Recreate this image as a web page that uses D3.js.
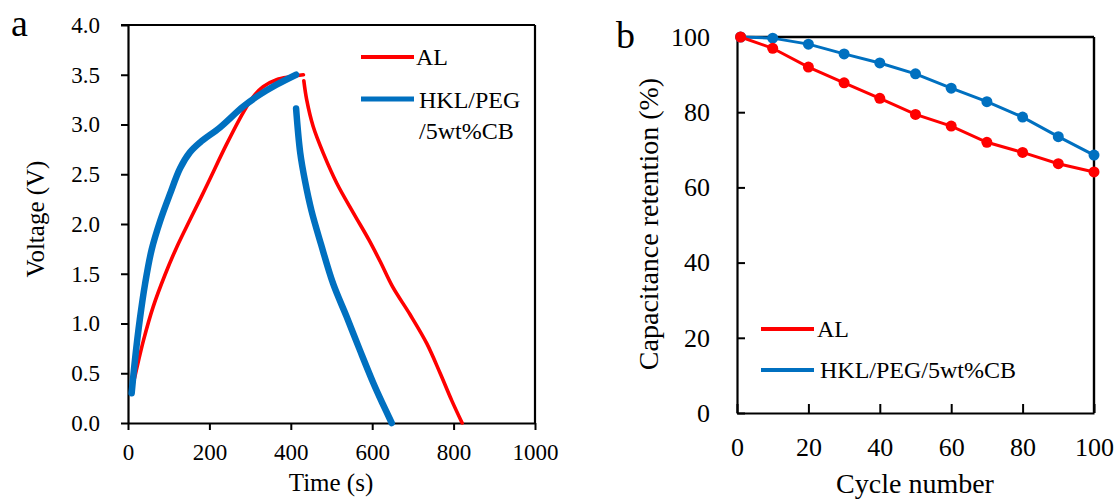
<!DOCTYPE html>
<html>
<head>
<meta charset="utf-8">
<script src="https://cdn.jsdelivr.net/npm/d3@7"></script>
<style>
  html, body { margin: 0; padding: 0; background: #fff; }
  svg { display: block; }
  text { font-family: "Liberation Serif", "Times New Roman", serif; fill: #000; }
</style>
</head>
<body>
<svg id="fig" width="1118" height="501"></svg>
<script>
// ---- Panel a: galvanostatic charge/discharge, time (s) vs voltage (V)
const alCharge = [[10,0.35],[17,0.47],[38,0.83],[62,1.17],[91,1.49],[120,1.77],[152,2.04],[181,2.28],[201,2.45],[242,2.80],[283,3.12],[308,3.28],[332,3.38],[365,3.45],[400,3.48],[431,3.50]];
const alDischarge = [[432,3.44],[439,3.25],[455,2.98],[480,2.71],[513,2.41],[554,2.11],[592,1.84],[620,1.62],[650,1.37],[693,1.09],[734,0.80],[767,0.50],[795,0.23],[821,0]];
const hklCharge = [[9,0.30],[17,0.63],[29,1.04],[42,1.40],[58,1.74],[79,2.03],[103,2.30],[128,2.56],[152,2.72],[177,2.82],[226,2.97],[283,3.18],[324,3.30],[365,3.40],[413,3.50]];
const hklDischarge = [[413,3.16],[423,2.72],[435,2.43],[451,2.13],[474,1.80],[504,1.40],[537,1.07],[570,0.73],[603,0.40],[625,0.20],[648,0]];
const voltageTicks = [0, 0.5, 1.0, 1.5, 2.0, 2.5, 3.0, 3.5, 4.0];
const timeTicks = [0, 200, 400, 600, 800, 1000];

// ---- Panel b: capacitance retention (%) over cycles
const cycles = [1, 10, 20, 30, 40, 50, 60, 70, 80, 90, 100];
const alRetention = [100, 97.0, 92.0, 87.8, 83.7, 79.4, 76.3, 72.0, 69.3, 66.3, 64.1];
const hklRetention = [100, 99.7, 98.1, 95.5, 93.1, 90.2, 86.4, 82.8, 78.7, 73.5, 68.6];
const retentionTicks = [0, 20, 40, 60, 80, 100];
const cycleTicks = [0, 20, 40, 60, 80, 100];

const seriesNames = ["AL", "HKL/PEG/5wt%CB"];
const RED = "#ff0000", BLUE = "#0070c0";

const svg = d3.select("#fig");
svg.append("rect").attr("width", 1118).attr("height", 501).attr("fill", "#fff");

function styleAxis(g, fontSize) {
  g.select(".domain").attr("stroke", "#000").attr("stroke-width", 2.2);
  g.selectAll(".tick line").attr("stroke", "#000").attr("stroke-width", 2);
  g.selectAll(".tick text").attr("font-size", fontSize)
    .attr("font-family", '"Liberation Serif", "Times New Roman", serif').attr("fill", "#000");
}

// ================= Panel a =================
const xA = d3.scaleLinear().domain([0, 1000]).range([128, 535]);
const yA = d3.scaleLinear().domain([0, 4]).range([423, 25]);
const pa = svg.append("g");

// frame (top + right)
pa.append("line").attr("x1", 121).attr("x2", xA(1000)).attr("y1", yA(4)).attr("y2", yA(4))
  .attr("stroke", "#000").attr("stroke-width", 2.2);
pa.append("line").attr("x1", xA(1000)).attr("x2", xA(1000)).attr("y1", yA(4)).attr("y2", yA(0))
  .attr("stroke", "#000").attr("stroke-width", 2.2);

const axA_left = pa.append("g").attr("transform", `translate(${xA(0)},0)`)
  .call(d3.axisLeft(yA).tickValues(voltageTicks).tickFormat(d3.format(".1f"))
    .tickSizeInner(7).tickSizeOuter(0).tickPadding(21));
styleAxis(axA_left, 23);
const axA_bottom = pa.append("g").attr("transform", `translate(0,${yA(0)})`)
  .call(d3.axisBottom(xA).tickValues(timeTicks).tickFormat(d3.format("d"))
    .tickSizeInner(7).tickSizeOuter(0).tickPadding(14));
styleAxis(axA_bottom, 23);

const lineA = d3.line().x(d => xA(d[0])).y(d => yA(d[1])).curve(d3.curveCatmullRom.alpha(0.5));
[[alCharge, RED, 3.6], [alDischarge, RED, 3.6], [hklCharge, BLUE, 6.5], [hklDischarge, BLUE, 6.5]]
  .forEach(([data, c, w]) => {
    pa.append("path").datum(data).attr("d", lineA).attr("fill", "none")
      .attr("stroke", c).attr("stroke-width", w).attr("stroke-linecap", "round")
      .attr("stroke-linejoin", "round");
  });

// legend a
pa.append("line").attr("x1", 361).attr("x2", 414).attr("y1", 57).attr("y2", 57)
  .attr("stroke", RED).attr("stroke-width", 4);
pa.append("text").attr("x", 416).attr("y", 65).attr("font-size", 24).text(seriesNames[0]);
pa.append("line").attr("x1", 361).attr("x2", 414).attr("y1", 99).attr("y2", 99)
  .attr("stroke", BLUE).attr("stroke-width", 5);
pa.append("text").attr("x", 419).attr("y", 108).attr("font-size", 24).text("HKL/PEG");
pa.append("text").attr("x", 419).attr("y", 139).attr("font-size", 24).text("/5wt%CB");

// titles a
pa.append("text").attr("x", 331).attr("y", 491).attr("text-anchor", "middle")
  .attr("font-size", 25).text("Time (s)");
pa.append("text").attr("transform", "translate(44,219) rotate(-90)").attr("text-anchor", "middle")
  .attr("font-size", 25).text("Voltage (V)");
pa.append("text").attr("x", 11).attr("y", 36).attr("font-size", 38).text("a");

// ================= Panel b =================
const xB = d3.scaleLinear().domain([0, 100]).range([737, 1094]);
const yB = d3.scaleLinear().domain([0, 100]).range([413, 37]);
const pb = svg.append("g");

pb.append("line").attr("x1", xB(0)).attr("x2", xB(100)).attr("y1", yB(100)).attr("y2", yB(100))
  .attr("stroke", "#000").attr("stroke-width", 2.4);
pb.append("line").attr("x1", xB(100)).attr("x2", xB(100)).attr("y1", yB(100)).attr("y2", yB(0))
  .attr("stroke", "#000").attr("stroke-width", 2.4);

const axB_left = pb.append("g").attr("transform", `translate(${xB(0)},0)`)
  .call(d3.axisLeft(yB).tickValues(retentionTicks).tickFormat(d3.format("d"))
    .tickSizeInner(-8).tickSizeOuter(0).tickPadding(27));
styleAxis(axB_left, 26);
const axB_bottom = pb.append("g").attr("transform", `translate(0,${yB(0)})`)
  .call(d3.axisBottom(xB).tickValues(cycleTicks).tickFormat(d3.format("d"))
    .tickSizeInner(-9).tickSizeOuter(0).tickPadding(25));
styleAxis(axB_bottom, 26);

const lineB = d3.line().x(d => xB(d[0])).y(d => yB(d[1]));
[[hklRetention, BLUE], [alRetention, RED]].forEach(([vals, c]) => {
  const pts = cycles.map((cy, i) => [cy, vals[i]]);
  pb.append("path").datum(pts).attr("d", lineB).attr("fill", "none")
    .attr("stroke", c).attr("stroke-width", 3);
  pb.selectAll(null).data(pts).enter().append("circle")
    .attr("cx", d => xB(d[0])).attr("cy", d => yB(d[1])).attr("r", 5.5).attr("fill", c);
});

// legend b
pb.append("line").attr("x1", 761).attr("x2", 814).attr("y1", 329).attr("y2", 329)
  .attr("stroke", RED).attr("stroke-width", 4);
pb.append("text").attr("x", 817).attr("y", 337).attr("font-size", 24).text(seriesNames[0]);
pb.append("line").attr("x1", 761).attr("x2", 814).attr("y1", 370).attr("y2", 370)
  .attr("stroke", BLUE).attr("stroke-width", 4);
pb.append("text").attr("x", 820).attr("y", 378).attr("font-size", 24).text(seriesNames[1]);

// titles b
pb.append("text").attr("x", 915).attr("y", 493).attr("text-anchor", "middle")
  .attr("font-size", 28).text("Cycle number");
pb.append("text").attr("transform", "translate(658,224) rotate(-90)").attr("text-anchor", "middle")
  .attr("font-size", 28).text("Capacitance retention (%)");
pb.append("text").attr("x", 616).attr("y", 48).attr("font-size", 38).text("b");
</script>
</body>
</html>
